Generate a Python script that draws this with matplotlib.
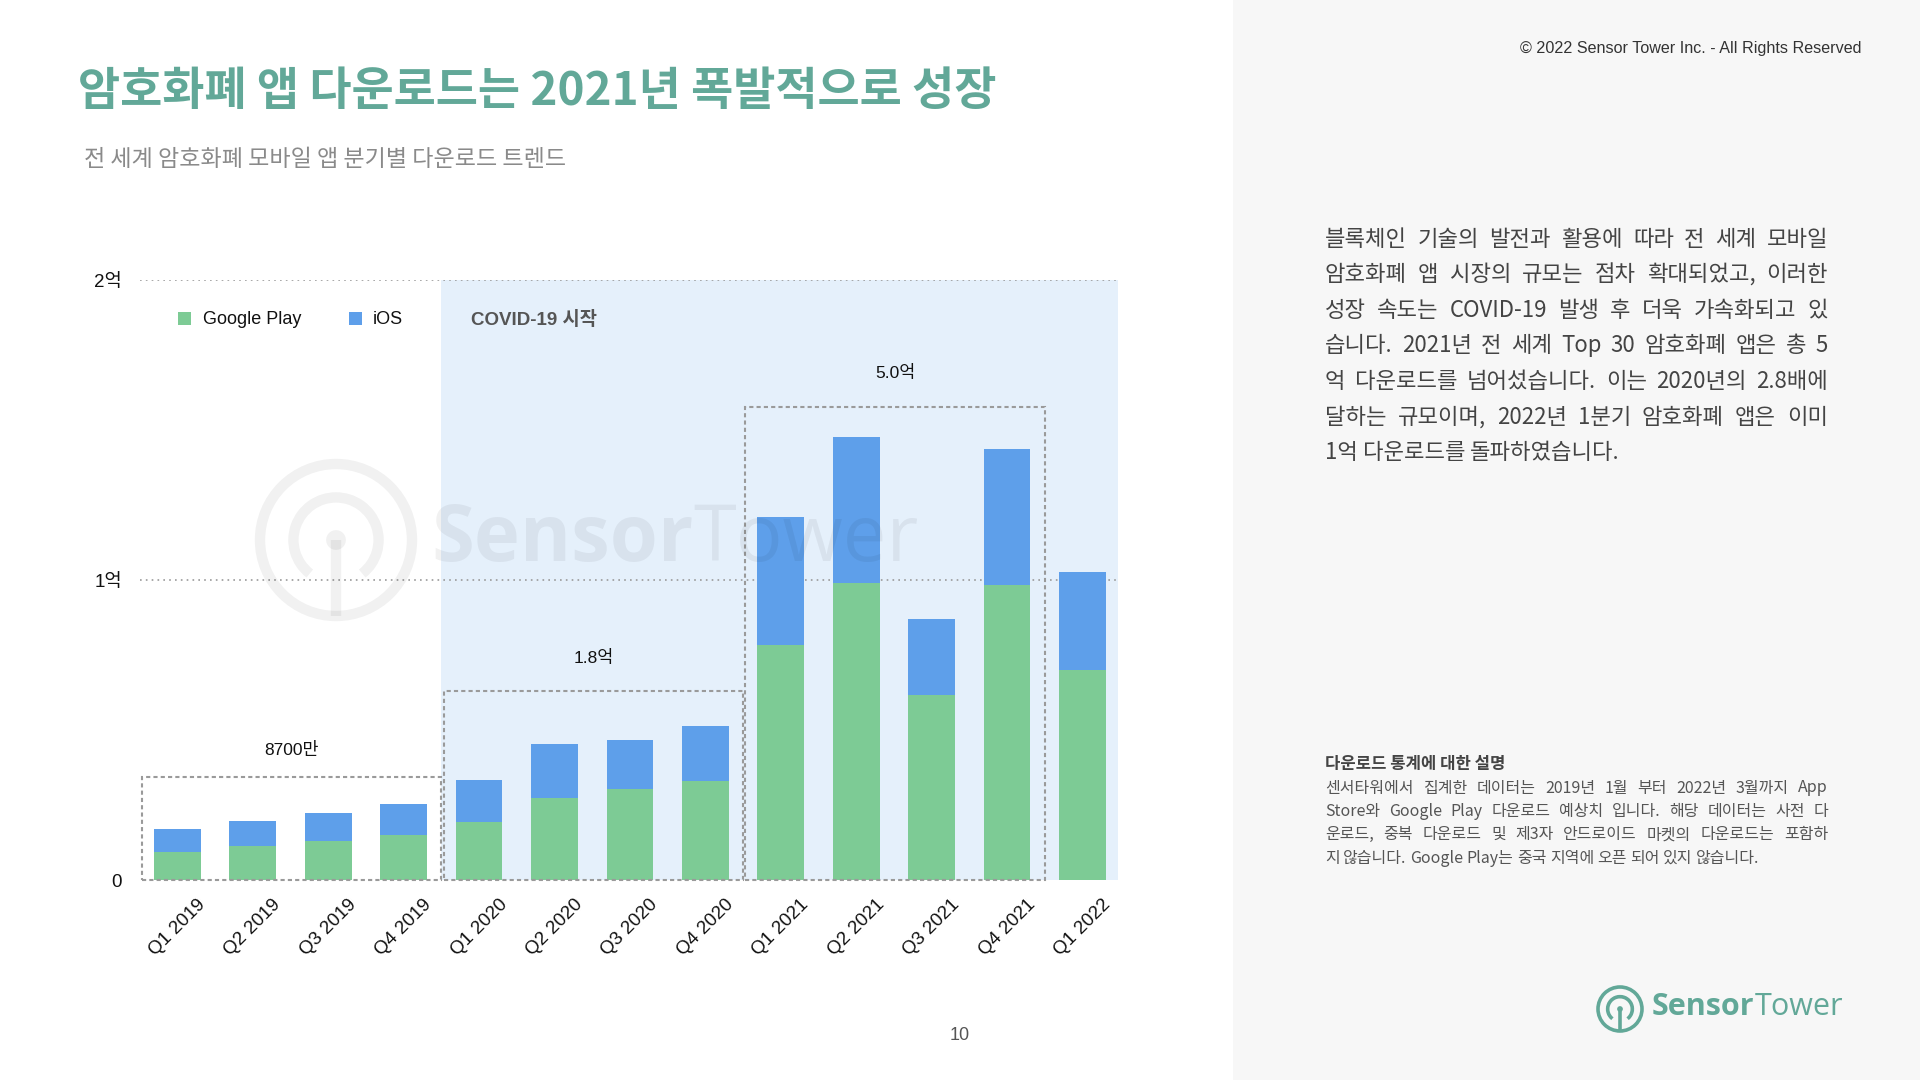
import matplotlib
matplotlib.use('Agg')
import matplotlib.pyplot as plt
from matplotlib.patches import Rectangle, Circle, Arc
import numpy as np

# ---------------- data (백만 다운로드) ----------------
quarters = ['Q1 2019', 'Q2 2019', 'Q3 2019', 'Q4 2019',
            'Q1 2020', 'Q2 2020', 'Q3 2020', 'Q4 2020',
            'Q1 2021', 'Q2 2021', 'Q3 2021', 'Q4 2021', 'Q1 2022']
google_play = [9.5, 11.4, 13.2, 15.1, 19.5, 27.5, 30.5, 33.2, 78.5, 99.2, 61.8, 98.5, 70.2]
ios = [7.6, 8.5, 9.2, 10.3, 14.0, 17.9, 16.3, 18.2, 42.6, 48.6, 25.3, 45.3, 32.7]
y_ticks = [0, 100, 200]
y_tick_labels = ['0', '1억', '2억']
year_groups = [(0, 3), (4, 7), (8, 11)]
year_totals = ['8700만', '1.8억', '5.0억']
covid_start_index = 4

paragraph_lines = [
    '블록체인 기술의 발전과 활용에 따라 전 세계 모바일',
    '암호화폐 앱 시장의 규모는 점차 확대되었고, 이러한',
    '성장 속도는 COVID-19 발생 후 더욱 가속화되고 있',
    '습니다. 2021년 전 세계 Top 30 암호화폐 앱은 총 5',
    '억 다운로드를 넘어섰습니다. 이는 2020년의 2.8배에',
    '달하는 규모이며, 2022년 1분기 암호화폐 앱은 이미',
    '1억 다운로드를 돌파하였습니다.',
]
note_title = '다운로드 통계에 대한 설명'
note_lines = [
    '센서타워에서 집계한 데이터는 2019년 1월 부터 2022년 3월까지 App',
    'Store와 Google Play 다운로드 예상치 입니다. 해당 데이터는 사전 다',
    '운로드, 중복 다운로드 및 제3자 안드로이드 마켓의 다운로드는 포함하',
    '지 않습니다. Google Play는 중국 지역에 오픈 되어 있지 않습니다.',
]

# ---------------- style ----------------
KR = ['Noto Sans CJK KR', 'DejaVu Sans']
LAT = ['Liberation Sans', 'Noto Sans CJK KR', 'DejaVu Sans']
plt.rcParams['font.family'] = LAT
GREEN = '#7dcb95'
BLUE = '#5e9fea'
SHADE = '#e5f0fb'
TEAL = '#62a898'
box_pads = [9, 11.6, 10]
label_offsets = [9.2, 11, 11.2]

W, H = 1920, 1080
fig = plt.figure(figsize=(W / 100, H / 100), dpi=100)
fig.patch.set_facecolor('white')

# background overlay (pixel coordinates)
bg = fig.add_axes([0, 0, 1, 1], zorder=0)
bg.set_xlim(0, W); bg.set_ylim(H, 0); bg.axis('off')
bg.add_patch(Rectangle((1233, 0), W - 1233, H, color='#f7f7f7', lw=0))

# ---------------- chart ----------------
ax = fig.add_axes([140 / W, 1 - 880.4 / H, (1118 - 140) / W, 600 / H], zorder=1)
ax.patch.set_alpha(0)
x = np.arange(len(quarters))
xl, xr = -0.494, 12.47
ax.set_xlim(xl, xr)
ax.set_ylim(0, 200)
ax.axvspan(covid_start_index - 0.5, xr, color=SHADE, lw=0, zorder=0)
for yv in y_ticks[1:]:
    ax.plot([xl, xr], [yv, yv], color='#9a9a9a', lw=1.2, ls=(0, (1, 2.5)), zorder=1)

ax.bar(x, google_play, width=0.62, color=GREEN, zorder=3, lw=0)
ax.bar(x, ios, width=0.62, bottom=google_play, color=BLUE, zorder=3, lw=0)

totals = np.array(google_play) + np.array(ios)
for (a, b), lab, pad, off in zip(year_groups, year_totals, box_pads, label_offsets):
    top = totals[a:b + 1].max() + pad
    ax.add_patch(Rectangle((a - 0.47, 0), (b + 0.5) - (a - 0.47), top, fill=False,
                           ec='#9a9a9a', lw=1.5, ls=(0, (2, 1.5)), zorder=4, clip_on=False))
    ax.text((a - 0.47 + b + 0.5) / 2, top + off, lab, ha='center', va='center',
            fontsize=12.5, color='#111111', family=LAT, zorder=5)

for s in ax.spines.values():
    s.set_visible(False)
ax.set_yticks(y_ticks)
ax.set_yticklabels(y_tick_labels, fontsize=13.5, color='#111111')
ax.set_xticks(x)
ax.set_xticklabels(quarters, rotation=45, ha='center', fontsize=13.5, color='#111111')
ax.tick_params(axis='y', length=0, pad=13)
ax.tick_params(axis='x', length=0, pad=11)

# ---------------- foreground overlay ----------------
fg = fig.add_axes([0, 0, 1, 1], zorder=5)
fg.set_xlim(0, W); fg.set_ylim(H, 0); fg.axis('off'); fg.patch.set_alpha(0)
renderer = fig.canvas.get_renderer()


def draw_icon(axx, cx, cy, r, color, alpha, lw):
    axx.add_patch(Circle((cx, cy), r, fill=False, ec=color, lw=lw, alpha=alpha))
    ri = r * 0.56
    axx.add_patch(Arc((cx, cy), 2 * ri, 2 * ri, theta1=90 + 38, theta2=90 - 38 + 360,
                      ec=color, lw=lw, alpha=alpha))
    axx.plot([cx, cx], [cy, cy + r], color=color, lw=lw, alpha=alpha, solid_capstyle='butt')
    axx.add_patch(Circle((cx, cy), r * 0.13, color=color, alpha=alpha, lw=0))


def logo_text(axx, x0, y, size, color, alpha, zorder=6):
    t1 = axx.text(x0, y, 'Sensor', fontsize=size, fontweight='bold', family=['Open Sans'],
                  color=color, alpha=alpha, va='center', ha='left', zorder=zorder)
    w = t1.get_window_extent(renderer).width
    axx.text(x0 + w, y, 'Tower', fontsize=size, family=['Open Sans'],
             color=color, alpha=alpha, va='center', ha='left', zorder=zorder)


# watermark
draw_icon(fg, 336, 540, 76, '#000000', 0.055, 7.5)
logo_text(fg, 431, 540, 56, '#000000', 0.055)

# legend + covid label
fg.add_patch(Rectangle((178, 312), 13, 13, color=GREEN, lw=0))
fg.text(203, 320, 'Google Play', fontsize=13, va='center', ha='left', color='#111111', family=LAT)
fg.add_patch(Rectangle((349, 312), 13, 13, color=BLUE, lw=0))
fg.text(373, 320, 'iOS', fontsize=13, va='center', ha='left', color='#111111', family=LAT)
fg.text(471, 320, 'COVID-19 시작', fontsize=13.5, va='center', ha='left', color='#555555',
        fontweight='bold', family=LAT)

# titles
fg.text(78, 92, '암호화폐 앱 다운로드는 2021년 폭발적으로 성장', fontsize=33, fontweight='bold',
        color=TEAL, family=KR, va='center', ha='left')
fg.text(84, 159, '전 세계 암호화폐 모바일 앱 분기별 다운로드 트렌드', fontsize=16.6,
        color='#8a8a8a', family=KR, va='center', ha='left')
fg.text(1861, 48, '© 2022 Sensor Tower Inc. - All Rights Reserved', fontsize=11.6,
        color='#333333', family=LAT, va='center', ha='right')
fg.text(960, 1035, '10', fontsize=13, color='#555555', family=LAT, va='center', ha='center')


def justified(axx, line, x0, x1, y, size, color, justify=True, weight='normal'):
    words = line.split(' ')
    ts = [axx.text(0, y, w, fontsize=size, color=color, family=KR, va='center', ha='left',
                   fontweight=weight) for w in words]
    ws = [t.get_window_extent(renderer).width for t in ts]
    if justify and len(words) > 1:
        gap = (x1 - x0 - sum(ws)) / (len(words) - 1)
    else:
        gap = size * 0.3
    xx = x0
    for t, w in zip(ts, ws):
        t.set_x(xx)
        xx += w + gap


for i, line in enumerate(paragraph_lines):
    justified(fg, line, 1325, 1828, 239 + i * 35.6, 16, '#444444',
              justify=(i < len(paragraph_lines) - 1), weight='medium')

fg.text(1325, 764, note_title, fontsize=12, fontweight='bold', color='#444444', family=KR,
        va='center', ha='left')
for i, line in enumerate(note_lines):
    justified(fg, line, 1325, 1828, 788 + i * 23.4, 11.5, '#555555',
              justify=(i < len(note_lines) - 1))

# bottom-right logo
draw_icon(fg, 1620, 1009, 22, TEAL, 1.0, 2.6)
logo_text(fg, 1652, 1007, 22, TEAL, 1.0)

fig.savefig('out.png', dpi=100, facecolor='white')
